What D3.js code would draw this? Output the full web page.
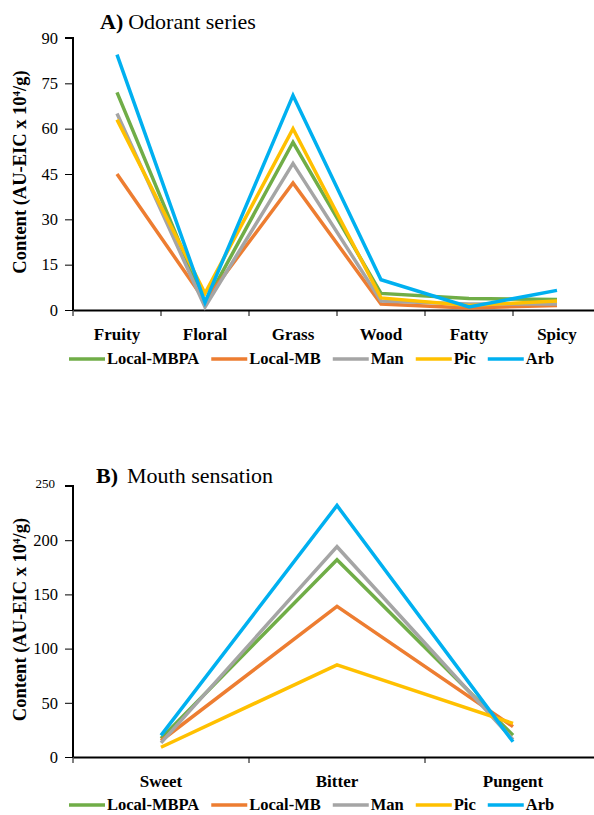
<!doctype html><html><head>
<style>
body { margin:0; background:#fff; }
text { font-family: "Liberation Serif",serif; fill:#000; }
</style>
</head><body><script src='https://d3js.org/d3.v7.min.js'></script>

<script>
// Dimensions
const W = 594, H = 815;
const axisX = 73, axisEnd = 601;
const serif = "'Liberation Serif',serif";

// Data
const seriesNames  = ["Local-MBPA", "Local-MB", "Man", "Pic", "Arb"];
const seriesColors = ["#70AD47", "#ED7D31", "#A5A5A5", "#FFC000", "#00B0F0"];

const odorCats   = ["Fruity", "Floral", "Grass", "Wood", "Fatty", "Spicy"];
const odorMBPA   = [72, 2, 55.5, 5.5, 3.8, 3.5];
const odorMB     = [45, 3, 42, 2, 0.7, 1.5];
const odorMan    = [65, 1, 48.5, 3, 2, 2];
const odorPic    = [63, 5.5, 60, 4, 1.5, 3];
const odorArb    = [84.5, 2.5, 71, 10, 1, 6.5];
const odorTicks  = [0, 15, 30, 45, 60, 75, 90];

const mouthCats  = ["Sweet", "Bitter", "Pungent"];
const mouthMBPA  = [17, 182, 20];
const mouthMB    = [15, 139, 28];
const mouthMan   = [13, 194, 16];
const mouthPic   = [9, 85, 31];
const mouthArb   = [20, 232, 14];
const mouthTicks = [0, 50, 100, 150, 200, 250];

const svg = d3.select("body").append("svg")
              .attr("width", W).attr("height", H);

function panel(opts) {
  const g = svg.append("g");
  const x = d3.scaleBand().domain(opts.cats).range([axisX, axisEnd]);
  const y = d3.scaleLinear().domain([0, opts.max]).range([opts.y0, opts.y1]);

  // y axis
  const ya = g.append("g").attr("transform", `translate(${axisX},0)`)
              .call(d3.axisLeft(y).tickValues(opts.ticks).tickSize(8).tickPadding(7));
  ya.attr("font-family", null);
  ya.select(".domain").attr("stroke-width", 2).attr("d", `M-8,${opts.y1}H0V${opts.y0}`);
  ya.selectAll(".tick line").attr("stroke-width", 1);
  ya.selectAll(".tick text").style("font-size", "16.5px")
    .style("font-family", serif).attr("fill", "#000");
  if (opts.smallTop) ya.selectAll(".tick text").filter(d => d === opts.max)
    .style("font-size", "13px").attr("x", -18).attr("dy", "0.1em");

  // x axis
  const xa = g.append("g").attr("transform", `translate(0,${opts.y0})`)
              .call(d3.axisBottom(x).tickSize(0).tickPadding(opts.catPad));
  xa.attr("font-family", null);
  xa.select(".domain").attr("stroke-width", 2);
  xa.selectAll(".tick text").style("font-size", "17px").style("font-weight", "bold")
    .style("font-family", serif).attr("fill", "#000");
  const edges = opts.cats.map(c => x(c)).concat([axisEnd]);
  xa.selectAll(".edge").data(edges).enter().append("line")
    .attr("x1", d => d).attr("x2", d => d).attr("y1", 0).attr("y2", 6)
    .attr("stroke", "#000").attr("stroke-width", 1);

  // lines
  const line = d3.line().x((d, i) => x(opts.cats[i]) + x.bandwidth() / 2).y(d => y(d));
  opts.series.forEach((s, i) => {
    g.append("path").datum(s)
     .attr("fill", "none").attr("stroke", seriesColors[i])
     .attr("stroke-width", 3.5).attr("stroke-linejoin", "miter")
     .attr("d", line);
  });

  // title
  const t = g.append("text").attr("x", opts.titleX).attr("y", opts.titleY).style("font-size", "22px");
  t.append("tspan").style("font-weight", "bold").text(opts.label);
  t.append("tspan").attr("dx", opts.gap).text(opts.title);

  // y title
  const yt = g.append("text")
   .attr("transform", `translate(26,${(opts.y0 + opts.y1) / 2 - 2}) rotate(-90)`)
   .attr("text-anchor", "middle").style("font-size", "18.5px").style("font-weight", "bold");
  yt.append("tspan").text("Content (AU-EIC x 10");
  yt.append("tspan").attr("dy", -6).style("font-size", "11px").text("4");
  yt.append("tspan").attr("dy", 6).text("/g)");

  // legend
  let lx = 69;
  const ly = opts.legendY;
  seriesNames.forEach((n, i) => {
    g.append("line").attr("x1", lx).attr("x2", lx + 36).attr("y1", ly - 5).attr("y2", ly - 5)
     .attr("stroke", seriesColors[i]).attr("stroke-width", 3.5);
    const tt = g.append("text").attr("x", lx + 38).attr("y", ly)
                .style("font-size", "16.5px").style("font-weight", "bold").text(n);
    lx += 38 + tt.node().getComputedTextLength() + 12;
  });
}

panel({
  cats: odorCats, max: 90, ticks: odorTicks, y0: 310, y1: 38, catPad: 18,
  series: [odorMBPA, odorMB, odorMan, odorPic, odorArb],
  label: "A)", title: "Odorant series", gap: 5, titleX: 100, titleY: 29,
  legendY: 364
});

panel({
  cats: mouthCats, max: 250, ticks: mouthTicks, y0: 757, y1: 486, smallTop: true, catPad: 18,
  series: [mouthMBPA, mouthMB, mouthMan, mouthPic, mouthArb],
  label: "B)", title: "Mouth sensation", gap: 9, titleX: 96, titleY: 483,
  legendY: 810
});
</script></body></html>
